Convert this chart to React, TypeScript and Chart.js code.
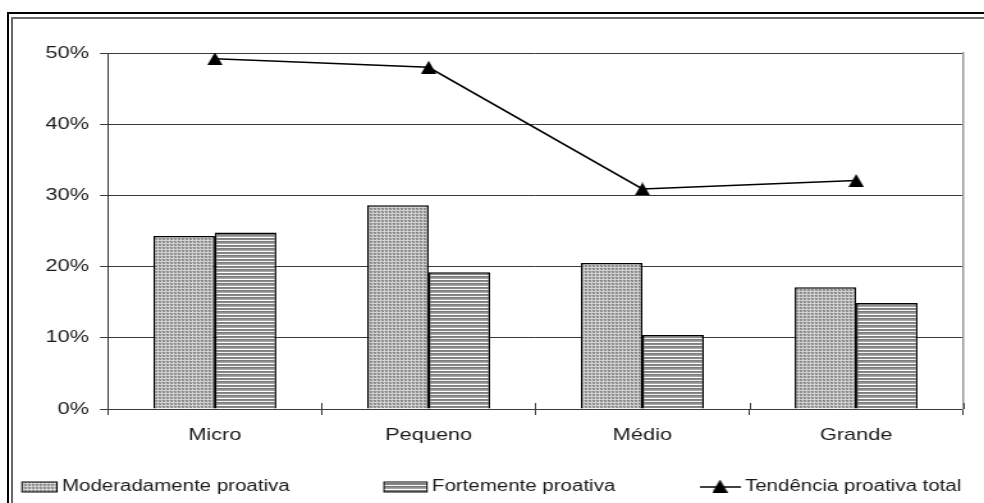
import React, { useEffect, useRef } from 'react';
import { Chart, registerables } from 'chart.js';

Chart.register(...registerables);

// ---- data ----
const categories = ['Micro', 'Pequeno', 'Médio', 'Grande'];
const moderadamente = [24.3, 28.6, 20.5, 17.1];
const fortemente = [24.8, 19.2, 10.4, 14.9];
const tendencia = [49.2, 48.0, 30.9, 32.1];
const yTicks = [0, 10, 20, 30, 40, 50];
const seriesNames = ['Moderadamente proativa', 'Fortemente proativa', 'Tendência proativa total'];

// ---- layout (page pixels) ----
const PAGE_W = 984;
const PAGE_H = 503;
const LOGICAL_W = 769;
const SX = PAGE_W / LOGICAL_W;
const px = (v: number) => v / SX;

const FONT = '"Liberation Sans", Arial, Helvetica, sans-serif';
const TEXT = '#1a1a1a';
const GRID = '#3a3a3a';

function makePattern(kind: 'dots' | 'stripes'): CanvasPattern | string {
  const c = document.createElement('canvas');
  let rows: string[][];
  if (kind === 'dots') {
    rows = [
      ['#d6d6d6', '#c8c8c8', '#d6d6d6'],
      ['#c0c0c0', '#828282', '#9c9c9c'],
      ['#d6d6d6', '#9c9c9c', '#888888'],
    ];
  } else {
    rows = [['#7e7e7e'], ['#888888'], ['#f2f2f2'], ['#7a7a7a'], ['#909090'], ['#a4a4a4'], ['#ffffff']];
  }
  c.height = rows.length;
  c.width = rows[0].length;
  const g = c.getContext('2d')!;
  rows.forEach((r, yy) => r.forEach((col, xx) => { g.fillStyle = col; g.fillRect(xx, yy, 1, 1); }));
  return g.createPattern(c, 'repeat') || '#aaa';
}

function makeTriangle(): HTMLCanvasElement {
  const w = Math.round(px(15));
  const h = 13;
  const c = document.createElement('canvas');
  c.width = w;
  c.height = h;
  const g = c.getContext('2d')!;
  g.fillStyle = '#000';
  g.beginPath();
  g.moveTo(w / 2, 0);
  g.lineTo(w, h);
  g.lineTo(0, h);
  g.closePath();
  g.fill();
  return c;
}

export default function App() {
  const ref = useRef<HTMLCanvasElement | null>(null);

  useEffect(() => {
    if (!ref.current) return;
    const dots = makePattern('dots');
    const stripes = makePattern('stripes');
    const tri = makeTriangle();

    // small upward part of the category boundary ticks (they cross the axis)
    const crossTicks = {
      id: 'crossTicks',
      afterDatasetsDraw(chart: any) {
        const xs = chart.scales.x;
        const ctx = chart.ctx as CanvasRenderingContext2D;
        const bottom = chart.chartArea.bottom;
        ctx.save();
        ctx.strokeStyle = GRID;
        ctx.lineWidth = 1;
        for (let i = 0; i <= categories.length; i++) {
          const x = Math.round(xs.getPixelForValue(i - 0.5)) + 0.5;
          ctx.beginPath();
          ctx.moveTo(x, bottom - 6);
          ctx.lineTo(x, bottom);
          ctx.stroke();
        }
        ctx.restore();
      },
    };

    const legendPlugin = {
      id: 'pageLegend',
      afterDraw(chart: any) {
        const ctx = chart.ctx as CanvasRenderingContext2D;
        const ds = chart.data.datasets;
        const y = 487;
        ctx.save();
        ctx.font = `16px ${FONT}`;
        ctx.textBaseline = 'middle';
        ctx.textAlign = 'left';
        const box = (x0: number, x1: number, fill: any) => {
          ctx.fillStyle = fill;
          ctx.fillRect(px(x0), y - 5, px(x1 - x0), 10);
          ctx.strokeStyle = '#000';
          ctx.lineWidth = 1;
          ctx.strokeRect(px(x0), y - 5, px(x1 - x0), 10);
        };
        box(22, 57, dots);
        ctx.fillStyle = TEXT;
        ctx.fillText(ds[0].label, px(62), y);
        box(384, 427, stripes);
        ctx.fillStyle = TEXT;
        ctx.fillText(ds[1].label, px(432), y);
        ctx.strokeStyle = '#000';
        ctx.lineWidth = 1.5;
        ctx.beginPath();
        ctx.moveTo(px(700), y);
        ctx.lineTo(px(741), y);
        ctx.stroke();
        ctx.drawImage(tri, px(720) - tri.width / 2, y - tri.height / 2 - 1);
        ctx.fillStyle = TEXT;
        ctx.fillText(ds[2].label, px(745), y);
        ctx.restore();
      },
    };

    const chart = new Chart(ref.current, {
      type: 'bar',
      data: {
        labels: categories,
        datasets: [
          {
            type: 'bar',
            label: seriesNames[0],
            data: moderadamente,
            backgroundColor: dots as any,
            borderColor: '#000',
            borderWidth: 1.5,
            borderSkipped: 'bottom',
            yAxisID: 'y',
            order: 2,
          },
          {
            type: 'bar',
            label: seriesNames[1],
            data: fortemente,
            backgroundColor: stripes as any,
            borderColor: '#000',
            borderWidth: 1.5,
            borderSkipped: 'bottom',
            yAxisID: 'y',
            order: 2,
          },
          {
            type: 'line',
            label: seriesNames[2],
            data: tendencia,
            borderColor: '#000',
            borderWidth: 1.6,
            tension: 0,
            pointStyle: tri as any,
            pointRadius: 7,
            yAxisID: 'y',
            order: 0,
          } as any,
        ],
      },
      options: {
        responsive: false,
        maintainAspectRatio: false,
        animation: false,
        devicePixelRatio: 1,
        layout: { padding: { left: 0, right: LOGICAL_W - px(963), top: 53, bottom: PAGE_H - 409 - 40 } },
        plugins: {
          legend: { display: false },
          tooltip: { enabled: false },
          title: { display: false },
        },
        datasets: {
          bar: { categoryPercentage: 0.575, barPercentage: 1.0 },
        },
        scales: {
          x: {
            type: 'category',
            offset: true,
            grid: {
              display: true,
              offset: true,
              drawOnChartArea: false,
              drawTicks: true,
              tickLength: 6,
              color: GRID,
              lineWidth: 1,
            },
            border: { display: true, color: GRID, width: 1 },
            ticks: { color: TEXT, font: { family: FONT, size: 17 }, padding: 10, maxRotation: 0 },
            afterFit: (s: any) => { s.height = 40; },
          },
          y: {
            type: 'linear',
            position: 'left',
            min: 0,
            max: 50,
            afterBuildTicks: (s: any) => { s.ticks = yTicks.map((v) => ({ value: v })); },
            grid: { color: GRID, lineWidth: 1, drawTicks: true, tickLength: px(8) },
            border: { display: true, color: GRID, width: 1 },
            ticks: {
              color: TEXT,
              font: { family: FONT, size: 17 },
              padding: px(11),
              callback: (v: any) => `${v}%`,
            },
            afterFit: (s: any) => { s.width = px(108); },
          },
          y2: {
            type: 'linear',
            position: 'right',
            display: true,
            grid: { display: false, drawTicks: false },
            ticks: { display: false },
            border: { display: true, color: '#9a9a9a', width: 1.5 },
            afterFit: (s: any) => { s.width = 0; },
          },
        },
      },
      plugins: [crossTicks, legendPlugin],
    } as any);

    return () => chart.destroy();
  }, []);

  return (
    <div style={{ position: 'fixed', left: 0, top: 0, width: PAGE_W, height: PAGE_H, background: '#fff', overflow: 'hidden' }}>
      <div style={{ position: 'absolute', left: 7, top: 12, right: 0, height: 2, background: '#000' }} />
      <div style={{ position: 'absolute', left: 7, top: 12, bottom: 0, width: 2, background: '#000' }} />
      <div style={{ position: 'absolute', left: 11, top: 17, right: 0, height: 1.5, background: '#6a6a6a' }} />
      <div style={{ position: 'absolute', left: 11, top: 17, bottom: 0, width: 1.5, background: '#6a6a6a' }} />
      <div
        style={{
          position: 'absolute',
          left: 0,
          top: 0,
          width: LOGICAL_W,
          height: PAGE_H,
          transform: `scaleX(${SX})`,
          transformOrigin: '0 0',
        }}
      >
        <canvas ref={ref} width={LOGICAL_W} height={PAGE_H} style={{ display: 'block', width: LOGICAL_W, height: PAGE_H }} />
      </div>
    </div>
  );
}
